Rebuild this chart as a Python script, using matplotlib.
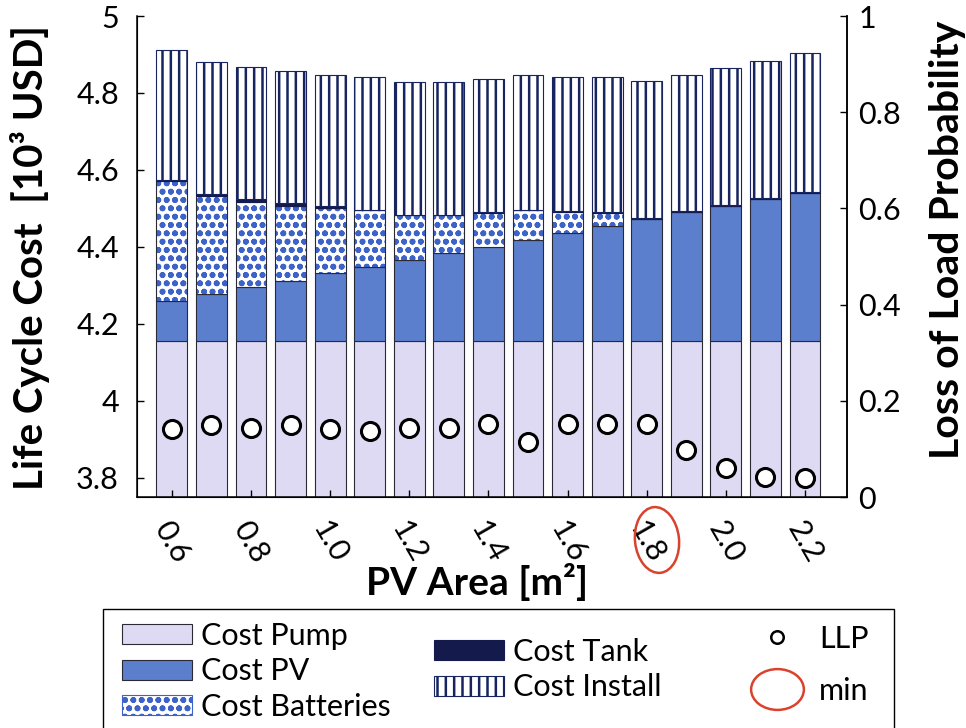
import numpy as np
import matplotlib
matplotlib.use("Agg")
import matplotlib.pyplot as plt
from matplotlib.patches import Ellipse, Rectangle, Patch
from matplotlib.lines import Line2D
from matplotlib.path import Path

plt.rcParams['font.family'] = ['Lato', 'DejaVu Sans']
plt.rcParams['hatch.linewidth'] = 1.8

# ---- data ----
pv_area = [0.6, 0.7, 0.8, 0.9, 1.0, 1.1, 1.2, 1.3, 1.4, 1.5, 1.6, 1.7, 1.8, 1.9, 2.0, 2.1, 2.2]
cost_pump = [4.156] * 17
cost_pv = [0.104, 0.122, 0.140, 0.156, 0.175, 0.192, 0.210, 0.227, 0.245,
           0.263, 0.281, 0.299, 0.316, 0.335, 0.350, 0.368, 0.385]
cost_batt = [0.311, 0.254, 0.221, 0.195, 0.171, 0.147, 0.116, 0.099, 0.088,
             0.076, 0.054, 0.034, 0.0, 0.0, 0.0, 0.0, 0.0]
cost_tank = [0.003, 0.006, 0.007, 0.008, 0.003, 0.002, 0.002, 0.002, 0.002,
             0.002, 0.002, 0.002, 0.004, 0.003, 0.003, 0.003, 0.002]
cost_install = [0.338, 0.342, 0.343, 0.342, 0.342, 0.345, 0.345, 0.345, 0.346,
                0.351, 0.349, 0.351, 0.355, 0.352, 0.355, 0.357, 0.360]
llp = [0.142, 0.149, 0.144, 0.149, 0.142, 0.138, 0.144, 0.144, 0.151,
       0.114, 0.152, 0.152, 0.152, 0.097, 0.060, 0.041, 0.040]

x_ticks = [0.6, 0.8, 1.0, 1.2, 1.4, 1.6, 1.8, 2.0, 2.2]
x_labels = ['0.6', '0.8', '1.0', '1.2', '1.4', '1.6', '1.8', '2.0', '2.2']
y_ticks = [3.8, 4.0, 4.2, 4.4, 4.6, 4.8, 5.0]
y_labels = ['3.8', '4', '4.2', '4.4', '4.6', '4.8', '5']
llp_ticks = [0, 0.2, 0.4, 0.6, 0.8, 1.0]
llp_labels = ['0', '0.2', '0.4', '0.6', '0.8', '1']

# colours
C_PUMP = '#dfdaf4'
C_PV = '#5b7ecd'
C_DOT = '#3d63c9'
C_TANK = '#141a4c'
C_STRIPE = '#17245f'
EDGE = '#2a2a35'
RED = '#d9432e'

fig = plt.figure(figsize=(9.66, 7.28), dpi=100)
ax = fig.add_axes([0.1418, 0.3173, 0.735, 0.6607])

x = np.array(pv_area)
w = 0.078
b1 = np.array(cost_pump)
b2 = b1 + np.array(cost_pv)
b3 = b2 + np.array(cost_batt)
b4 = b3 + np.array(cost_tank)

ax.bar(x, cost_pump, w, bottom=0, color=C_PUMP, edgecolor=EDGE, lw=0.8)
ax.bar(x, cost_pv, w, bottom=b1, color=C_PV, edgecolor=EDGE, lw=0.8)
ax.bar(x, cost_batt, w, bottom=b2, color='white', edgecolor=C_DOT, lw=0, hatch='oo')
ax.bar(x, cost_batt, w, bottom=b2, fill=False, edgecolor=EDGE, lw=0.8)
ax.bar(x, cost_tank, w, bottom=b3, color=C_TANK, edgecolor=C_TANK, lw=0.8)
ax.bar(x, cost_install, w, bottom=b4, color='white', edgecolor=C_STRIPE, lw=0.8, hatch='||')

ax.set_xlim(0.512, 2.306)
ax.set_ylim(3.75, 5.0)
ax.set_yticks(y_ticks)
ax.set_yticklabels(y_labels)
ax.set_xticks(x_ticks)
ax.set_xticklabels(x_labels, rotation=-60, ha='center', va='top')
ax.tick_params(axis='both', direction='in', length=5, width=1, labelsize=22)
ax.tick_params(axis='y', pad=13)
ax.tick_params(axis='x', pad=14)
ax.spines['top'].set_visible(False)
for s in ['left', 'bottom', 'right']:
    ax.spines[s].set_linewidth(1.1)

# LLP on right axis
ax2 = ax.twinx()
ax2.plot(x, llp, 'o', ms=13, mfc='white', mec='black', mew=2.2, ls='none')
ax2.set_ylim(0, 1)
ax2.set_yticks(llp_ticks)
ax2.set_yticklabels(llp_labels)
ax2.tick_params(axis='y', direction='in', length=5, width=1, labelsize=22, pad=8)
ax2.spines['top'].set_visible(False)
ax2.spines['right'].set_linewidth(1.1)

# axis labels
fig.text(30 / 966, 1 - 257 / 728, 'Life Cycle Cost  [10\u00b3 USD]', rotation=90,
         ha='center', va='center', fontsize=29, fontweight='bold')
fig.text(948 / 966, 1 - 240 / 728, 'Loss of Load Probability', rotation=90,
         ha='center', va='center', fontsize=29.5, fontweight='bold')
fig.text(477 / 966, 1 - 582 / 728, 'PV Area [m\u00b2]',
         ha='center', va='center', fontsize=28, fontweight='bold')

# red ellipse marking the minimum
fig.add_artist(Ellipse((6.57, (728 - 540) / 100), 0.44, 0.66, angle=6,
                       transform=fig.dpi_scale_trans, fill=False, ec=RED, lw=1.8))

# legend frame (bottom edge runs off the figure)
fig.add_artist(Rectangle((103 / 966, -0.05), (894 - 103) / 966, 0.05 + 1 - 609 / 728,
                         transform=fig.transFigure, fill=False, ec='black', lw=1.0))

h1 = [Patch(facecolor=C_PUMP, edgecolor=EDGE, lw=0.8),
      Patch(facecolor=C_PV, edgecolor=EDGE, lw=0.8),
      Patch(facecolor='white', edgecolor=C_DOT, hatch='oo', lw=0.8)]
l1 = fig.legend(h1, ['Cost Pump', 'Cost PV', 'Cost Batteries'], loc='upper left',
                bbox_to_anchor=(122 / 966, 1 - 622 / 728), frameon=False, fontsize=22,
                handlelength=2.29, handleheight=0.62, handletextpad=0.3,
                labelspacing=0.245, borderpad=0, borderaxespad=0)

h2 = [Patch(facecolor=C_TANK, edgecolor=C_TANK, lw=0.8),
      Patch(facecolor='white', edgecolor=C_STRIPE, hatch='||', lw=0.8)]
l2 = fig.legend(h2, ['Cost Tank', 'Cost Install'], loc='upper left',
                bbox_to_anchor=(434 / 966, 1 - 638 / 728), frameon=False, fontsize=22,
                handlelength=2.29, handleheight=0.62, handletextpad=0.3,
                labelspacing=0.245, borderpad=0, borderaxespad=0)

circ = Path.unit_circle()
ell_marker = Path(circ.vertices * np.array([1.0, 41 / 53]), circ.codes)
h3 = [Line2D([], [], marker='o', ms=9, mfc='white', mec='black', mew=1.8, ls='none'),
      Line2D([], [], marker=ell_marker, ms=38, mfc='none', mec=RED, mew=1.8, ls='none')]
l3 = fig.legend(h3, ['LLP', 'min'], loc='upper left',
                bbox_to_anchor=(749 / 966, 1 - 625 / 728), frameon=False, fontsize=22,
                handlelength=1.8, handletextpad=0.5,
                labelspacing=0.77, borderpad=0, borderaxespad=0)

fig.savefig('out.png', dpi=100)
